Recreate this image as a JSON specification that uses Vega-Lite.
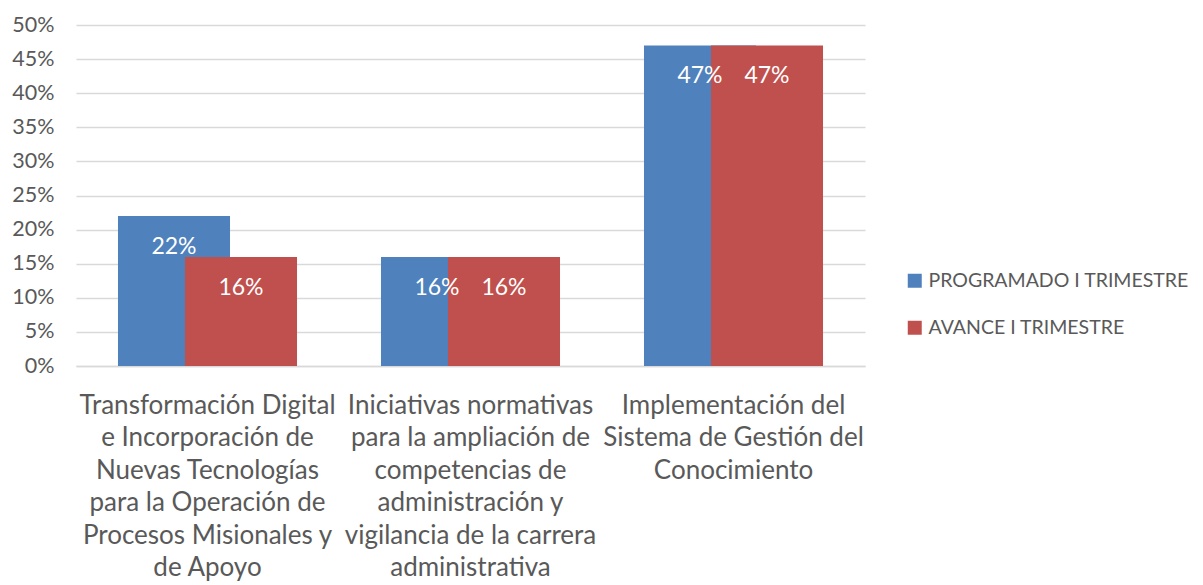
{
  "$schema": "https://vega.github.io/schema/vega-lite/v6.json",
  "width": 789,
  "height": 341,
  "autosize": "none",
  "padding": {"left": 76, "top": 25, "right": 338, "bottom": 219},
  "background": "white",
  "config": {
    "font": "Lato",
    "view": {"stroke": null},
    "axis": {"labelColor": "#595959", "labelFont": "Lato"},
    "legend": {"labelColor": "#595959", "labelFont": "Lato"}
  },
  "data": {
    "values": [
      {"cat": "Transformación Digital e Incorporación de Nuevas Tecnologías para la Operación de Procesos Misionales y de Apoyo", "serie": "PROGRAMADO I TRIMESTRE", "valor": 0.22},
      {"cat": "Transformación Digital e Incorporación de Nuevas Tecnologías para la Operación de Procesos Misionales y de Apoyo", "serie": "AVANCE I TRIMESTRE", "valor": 0.16},
      {"cat": "Iniciativas normativas para la ampliación de competencias de administración y vigilancia de la carrera administrativa", "serie": "PROGRAMADO I TRIMESTRE", "valor": 0.16},
      {"cat": "Iniciativas normativas para la ampliación de competencias de administración y vigilancia de la carrera administrativa", "serie": "AVANCE I TRIMESTRE", "valor": 0.16},
      {"cat": "Implementación del Sistema de Gestión del Conocimiento", "serie": "PROGRAMADO I TRIMESTRE", "valor": 0.47},
      {"cat": "Implementación del Sistema de Gestión del Conocimiento", "serie": "AVANCE I TRIMESTRE", "valor": 0.47}
    ]
  },
  "encoding": {
    "x": {
      "field": "cat",
      "type": "nominal",
      "sort": null,
      "scale": {"paddingInner": 0, "paddingOuter": 0},
      "axis": {
        "title": null,
        "labelAngle": 0,
        "labelFontSize": 26,
        "labelLineHeight": 32.5,
        "labelBaseline": "top",
        "labelPadding": 26,
        "labelLimit": 0,
        "ticks": false,
        "domain": true,
        "domainColor": "#D9D9D9",
        "domainWidth": 1.3,
        "grid": false,
        "labelExpr": "indexof(datum.value, 'Transformación') == 0 ? ['Transformación Digital', 'e Incorporación de', 'Nuevas Tecnologías', 'para la Operación de', 'Procesos Misionales y', 'de Apoyo'] : indexof(datum.value, 'Iniciativas') == 0 ? ['Iniciativas normativas', 'para la ampliación de', 'competencias de', 'administración y', 'vigilancia de la carrera', 'administrativa'] : ['Implementación del', 'Sistema de Gestión del', 'Conocimiento']"
      }
    },
    "y": {
      "field": "valor",
      "type": "quantitative",
      "scale": {"domain": [0, 0.5], "nice": false},
      "axis": {
        "title": null,
        "format": ".0%",
        "values": [0, 0.05, 0.1, 0.15, 0.2, 0.25, 0.3, 0.35, 0.4, 0.45, 0.5],
        "labelFontSize": 21.5,
        "labelPadding": 22,
        "ticks": false,
        "domain": false,
        "gridColor": "#D9D9D9",
        "gridWidth": 1.3
      }
    },
    "color": {
      "field": "serie",
      "type": "nominal",
      "scale": {"domain": ["PROGRAMADO I TRIMESTRE", "AVANCE I TRIMESTRE"], "range": ["#4F81BD", "#C0504D"]},
      "legend": {
        "title": null,
        "orient": "none",
        "legendX": 829,
        "legendY": 246,
        "symbolType": "square",
        "symbolSize": 196,
        "symbolStrokeWidth": 0,
        "labelFontSize": 19.5,
        "labelLimit": 0,
        "rowPadding": 26,
        "labelOffset": 4,
        "padding": 0
      }
    }
  },
  "layer": [
    {
      "transform": [{"filter": "datum.serie == 'PROGRAMADO I TRIMESTRE'"}],
      "mark": {"type": "bar", "width": {"band": 0.426}, "xOffset": -33.5}
    },
    {
      "transform": [{"filter": "datum.serie == 'AVANCE I TRIMESTRE'"}],
      "mark": {"type": "bar", "width": {"band": 0.426}, "xOffset": 33.5}
    },
    {
      "transform": [{"filter": "datum.serie == 'PROGRAMADO I TRIMESTRE'"}],
      "mark": {"type": "text", "xOffset": -33.5, "dy": 31, "fontSize": 23, "baseline": "middle", "color": "white"},
      "encoding": {"text": {"field": "valor", "type": "quantitative", "format": ".0%"}, "color": {"value": "white"}}
    },
    {
      "transform": [{"filter": "datum.serie == 'AVANCE I TRIMESTRE'"}],
      "mark": {"type": "text", "xOffset": 33.5, "dy": 31, "fontSize": 23, "baseline": "middle", "color": "white"},
      "encoding": {"text": {"field": "valor", "type": "quantitative", "format": ".0%"}, "color": {"value": "white"}}
    }
  ]
}
